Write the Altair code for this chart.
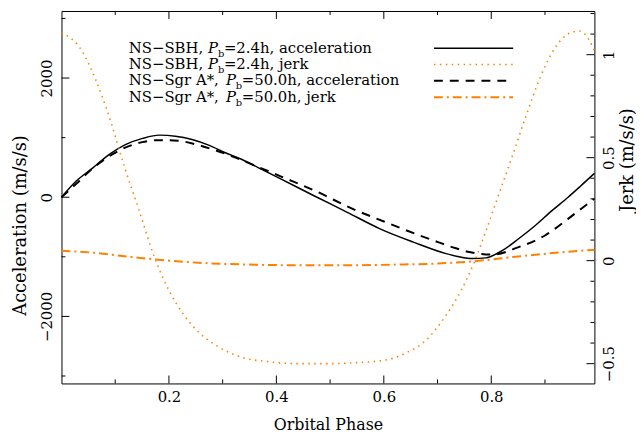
import altair as alt
import pandas as pd

FONT = "DejaVu Serif"
ORANGE = "#ff8000"
W, H = 538, 376

# ---------------- data ----------------
sbh_acc_phase = [0.000, 0.028, 0.059, 0.089, 0.120, 0.151, 0.182, 0.212, 0.243, 0.274,
                 0.305, 0.335, 0.366, 0.409, 0.470, 0.532, 0.593, 0.655, 0.716, 0.740,
                 0.765, 0.790, 0.821, 0.851, 0.882, 0.913, 0.943, 0.966, 0.992]
sbh_acc = [0, 275, 497, 720, 887, 987, 1042, 1025, 970, 875,
           747, 637, 497, 303, 25, -253, -530, -753, -947, -1000,
           -1030, -1018, -892, -697, -475, -225, 0, 185, 400]

sgr_acc_phase = [0.000, 0.028, 0.054, 0.083, 0.114, 0.150, 0.183, 0.217, 0.250, 0.285,
                 0.320, 0.347, 0.409, 0.476, 0.538, 0.599, 0.667, 0.701, 0.730, 0.759,
                 0.802, 0.851, 0.900, 0.943, 0.970, 0.992]
sgr_acc = [0, 230, 453, 653, 813, 925, 958, 947, 887, 792,
           680, 580, 347, 92, -180, -403, -642, -753, -845, -920,
           -963, -837, -642, -363, -176, -25]

sbh_jerk_phase = [0.000, 0.034, 0.062, 0.089, 0.117, 0.145, 0.172, 0.200, 0.228, 0.255,
                  0.292, 0.338, 0.384, 0.440, 0.495, 0.550, 0.606, 0.642, 0.679, 0.716,
                  0.744, 0.768, 0.790, 0.814, 0.840, 0.864, 0.891, 0.919, 0.947, 0.965,
                  0.983, 0.992]
sbh_jerk = [1.106, 1.034, 0.889, 0.697, 0.457, 0.240, 0.024, -0.144, -0.264, -0.346,
            -0.418, -0.471, -0.490, -0.500, -0.500, -0.495, -0.481, -0.447, -0.385, -0.264,
            -0.144, -0.010, 0.144, 0.322, 0.514, 0.697, 0.889, 1.034, 1.106, 1.115,
            1.067, 1.019]

sgr_jerk_phase = [0.000, 0.062, 0.126, 0.180, 0.255, 0.347, 0.440, 0.532, 0.624, 0.698,
                  0.771, 0.845, 0.919, 0.992]
sgr_jerk = [0.048, 0.038, 0.019, 0.005, -0.010, -0.019, -0.022, -0.022, -0.019, -0.014,
            -0.002, 0.019, 0.038, 0.053]

x_major = [0.2, 0.4, 0.6, 0.8]
x_minor = [0.1, 0.3, 0.5, 0.7, 0.9]
acc_major = [-2000, 0, 2000]
acc_minor = [-3000, -1000, 1000, 3000]
jerk_major = [-0.5, 0.0, 0.5, 1.0]
jerk_minor = [-0.4, -0.3, -0.2, -0.1, 0.1, 0.2, 0.3, 0.4, 0.6, 0.7, 0.8, 0.9, 1.1, 1.2]

legend_prefix = ["NS\u2212SBH, ", "NS\u2212SBH, ", "NS\u2212Sgr A*, ", "NS\u2212Sgr A*, "]
legend_suffix = ["=2.4h, acceleration", "=2.4h, jerk", "=50.0h, acceleration", "=50.0h, jerk"]

# ---------------- styles ----------------
styles = [
    dict(color="black", strokeWidth=1.5),
    dict(color=ORANGE, strokeWidth=1.6, strokeDash=[1.5, 4.5]),
    dict(color="black", strokeWidth=2, strokeDash=[9, 7]),
    dict(color=ORANGE, strokeWidth=2, strokeDash=[9, 4, 2, 4]),
]

xscale = alt.Scale(domain=[0, 0.992], nice=False, zero=False)
accscale = alt.Scale(domain=[-3125, 3125], nice=False, zero=False)
jerkscale = alt.Scale(domain=[-0.596, 1.212], nice=False, zero=False)

x_axis = alt.Axis(values=x_major, format=".1f", ticks=False, domain=False, grid=False,
                  labelFont=FONT, labelFontSize=15, labelPadding=6, labelBaseline="top",
                  labelFlush=False,
                  title="Orbital Phase", titleFont=FONT, titleFontSize=16, titleFontWeight="normal",
                  titleBaseline="alphabetic", titleAlign="center", titleX=W / 2, titleY=46)

acc_axis = alt.Axis(orient="left", values=acc_major, format="d", ticks=False,
                    domain=False, grid=False, labelAngle=270, labelAlign="center",
                    labelBaseline="alphabetic", labelPadding=10, labelFont=FONT, labelFontSize=15,
                    labelFlush=False,
                    title="Acceleration (m/s/s)", titleFont=FONT, titleFontSize=18,
                    titleFontWeight="normal", titleAngle=270, titleAlign="center",
                    titleBaseline="alphabetic", titleX=-36, titleY=216)

jerk_axis = alt.Axis(orient="right", values=jerk_major, format=".1~f", ticks=False,
                     domain=False, grid=False, labelAngle=270, labelAlign="center",
                     labelBaseline="top", labelPadding=7, labelFont=FONT, labelFontSize=15,
                     labelFlush=False,
                     title="Jerk (m/s/s)", titleFont=FONT, titleFontSize=18,
                     titleFontWeight="normal", titleAngle=270, titleAlign="center",
                     titleBaseline="alphabetic", titleX=38, titleY=150)

# ---------------- curves ----------------
df_sbh_acc = pd.DataFrame({"phase": sbh_acc_phase, "acc": sbh_acc})
df_sgr_acc = pd.DataFrame({"phase": sgr_acc_phase, "acc": sgr_acc})
df_sbh_jerk = pd.DataFrame({"phase": sbh_jerk_phase, "jerk": sbh_jerk})
df_sgr_jerk = pd.DataFrame({"phase": sgr_jerk_phase, "jerk": sgr_jerk})

solid = alt.Chart(df_sbh_acc).mark_line(interpolate="monotone", **styles[0]).encode(
    x=alt.X("phase:Q", scale=xscale, axis=x_axis),
    y=alt.Y("acc:Q", scale=accscale, axis=acc_axis),
)
dashed = alt.Chart(df_sgr_acc).mark_line(interpolate="monotone", **styles[2]).encode(
    x=alt.X("phase:Q", scale=xscale, axis=None),
    y=alt.Y("acc:Q", scale=accscale, axis=None),
)
dotted = alt.Chart(df_sbh_jerk).mark_line(interpolate="monotone", **styles[1]).encode(
    x=alt.X("phase:Q", scale=xscale, axis=None),
    y=alt.Y("jerk:Q", scale=jerkscale, axis=jerk_axis),
)
dashdot = alt.Chart(df_sgr_jerk).mark_line(interpolate="monotone", **styles[3]).encode(
    x=alt.X("phase:Q", scale=xscale, axis=None),
    y=alt.Y("jerk:Q", scale=jerkscale, axis=None),
)

# ---------------- inward ticks ----------------
def xticks(vals, length):
    d = pd.DataFrame({"phase": vals})
    bottom = alt.Chart(d).mark_rule(color="black", strokeWidth=1).encode(
        x=alt.X("phase:Q", scale=xscale, axis=None), y=alt.value(H), y2=alt.value(H - length))
    top = alt.Chart(d).mark_rule(color="black", strokeWidth=1).encode(
        x=alt.X("phase:Q", scale=xscale, axis=None), y=alt.value(0), y2=alt.value(length))
    return [bottom, top]

def accticks(vals, length):
    d = pd.DataFrame({"acc": vals})
    return alt.Chart(d).mark_rule(color="black", strokeWidth=1).encode(
        y=alt.Y("acc:Q", scale=accscale, axis=None), x=alt.value(0), x2=alt.value(length))

def jerkticks(vals, length):
    d = pd.DataFrame({"jerk": vals})
    return alt.Chart(d).mark_rule(color="black", strokeWidth=1).encode(
        y=alt.Y("jerk:Q", scale=jerkscale, axis=None), x=alt.value(W), x2=alt.value(W - length))

# ---------------- legend ----------------
one = pd.DataFrame({"k": [0]})
legend_layers = []
row_base = [42, 58.5, 75, 91.5]
p_x = [148, 148, 166, 166]
for i in range(4):
    yb = row_base[i]
    legend_layers.append(alt.Chart(one).mark_text(
        text=legend_prefix[i], font=FONT, fontSize=15, align="left", baseline="alphabetic",
        color="black").encode(x=alt.value(68), y=alt.value(yb)))
    legend_layers.append(alt.Chart(one).mark_text(
        text="P", font=FONT, fontSize=15, fontStyle="italic", align="left",
        baseline="alphabetic", color="black").encode(x=alt.value(p_x[i]), y=alt.value(yb)))
    legend_layers.append(alt.Chart(one).mark_text(
        text="b", font=FONT, fontSize=10, align="left", baseline="alphabetic",
        color="black").encode(x=alt.value(p_x[i] + 10), y=alt.value(yb + 4)))
    legend_layers.append(alt.Chart(one).mark_text(
        text=legend_suffix[i], font=FONT, fontSize=15, align="left", baseline="alphabetic",
        color="black").encode(x=alt.value(p_x[i] + 16), y=alt.value(yb)))
    legend_layers.append(alt.Chart(one).mark_rule(**styles[i]).encode(
        x=alt.value(376), x2=alt.value(456), y=alt.value(yb - 4.5)))

chart = alt.layer(
    solid, dashed, dotted, dashdot,
    *xticks(x_major, 8), *xticks(x_minor, 4),
    accticks(acc_major, 8), accticks(acc_minor, 4),
    jerkticks(jerk_major, 8), jerkticks(jerk_minor, 4),
    *legend_layers,
).resolve_scale(x="independent", y="independent").properties(
    width=W, height=H,
    autosize=alt.AutoSizeParams(type="none"),
    padding={"left": 54, "top": 1, "right": 42, "bottom": 48},
).configure(background="white").configure_view(stroke="black", strokeWidth=1).configure_axis(
    labelColor="black", titleColor="black")

chart.save("out.html", embed_options={"renderer": "svg", "actions": False})
